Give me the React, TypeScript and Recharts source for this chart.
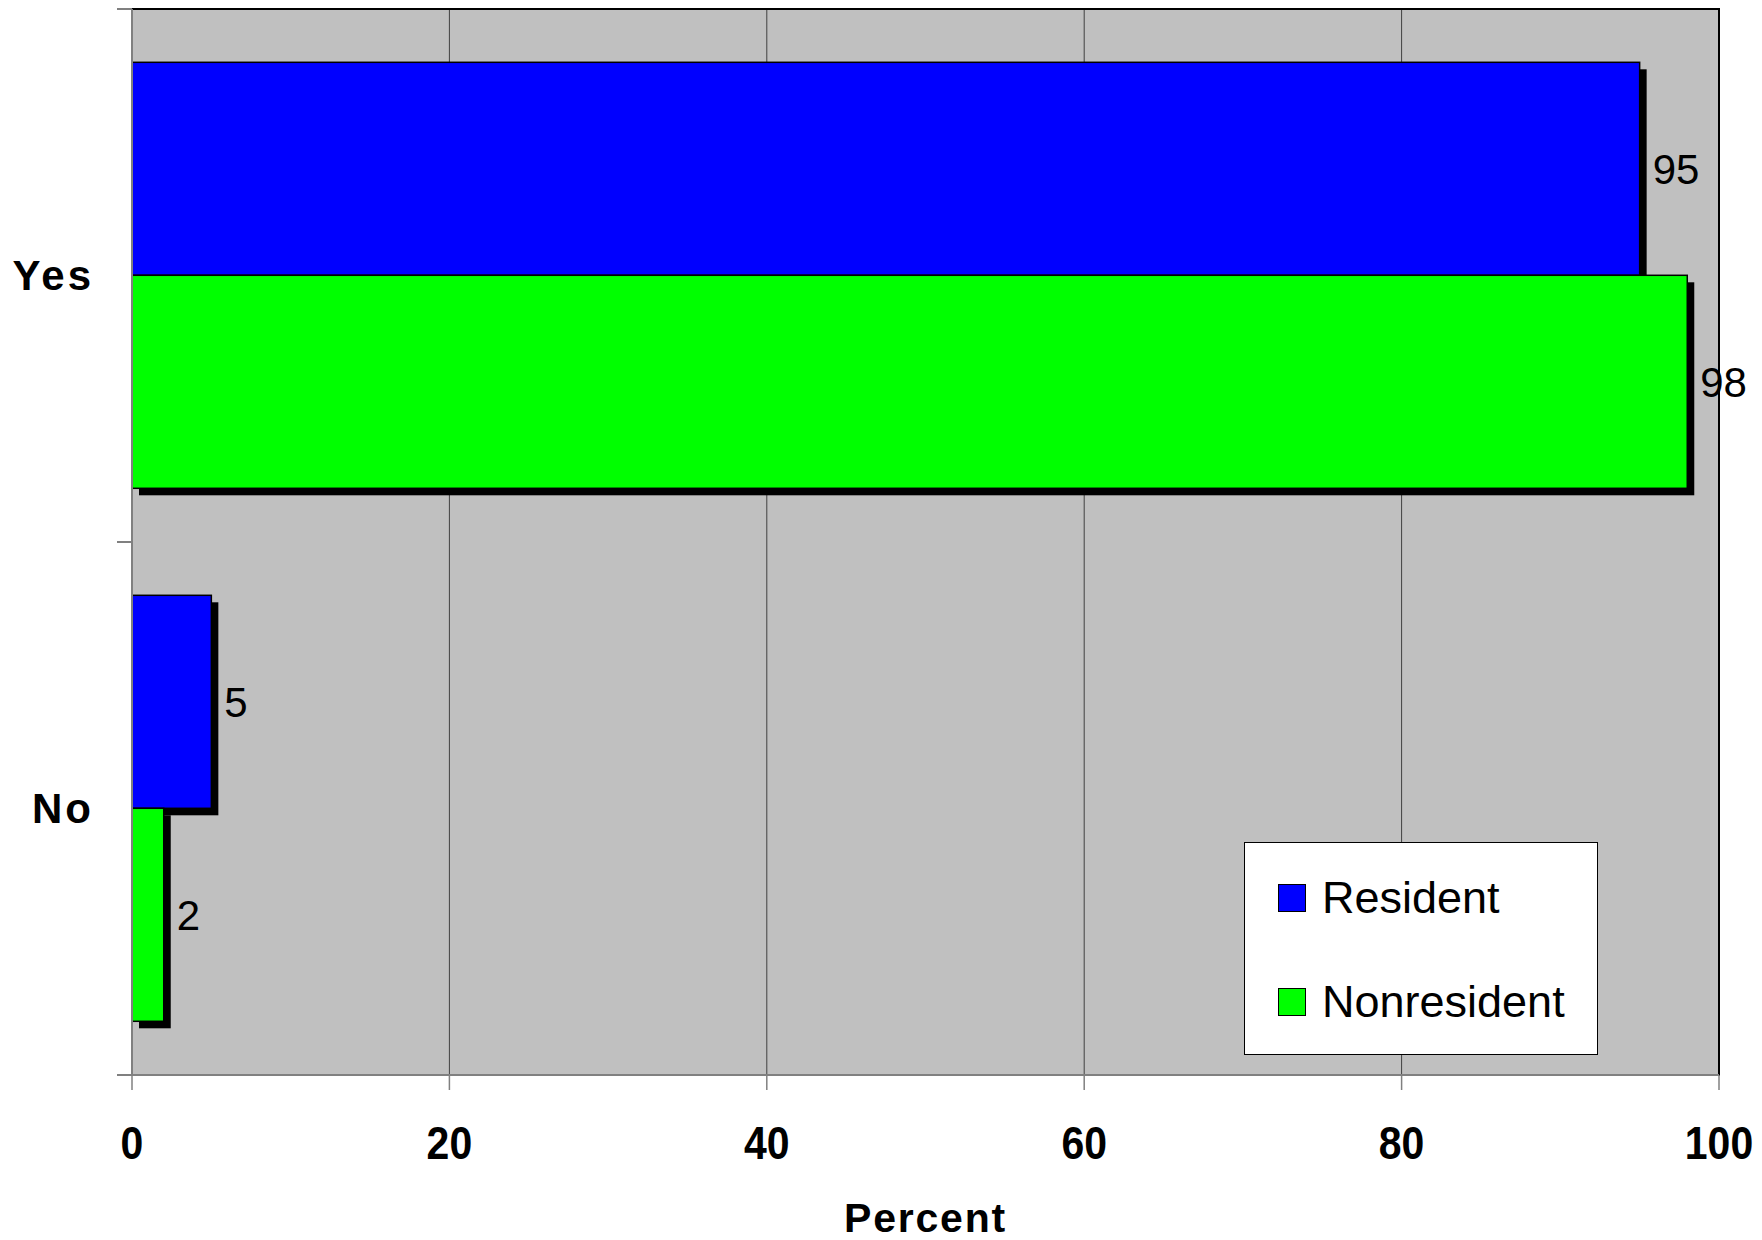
import React from 'react';
import {
  BarChart,
  Bar,
  XAxis,
  YAxis,
  CartesianGrid,
  LabelList,
  Legend,
  ReferenceArea,
} from 'recharts';

const categories = ['Yes', 'No'];
const residentValues = [95, 5];
const nonresidentValues = [98, 2];
const xTicks = [0, 20, 40, 60, 80, 100];
const seriesNames = ['Resident', 'Nonresident'];
const seriesColors = ['#0000ff', '#00ff00'];

const data = categories.map((c, i) => ({
  answer: c,
  Resident: residentValues[i],
  Nonresident: nonresidentValues[i],
}));

const FONT = '"Liberation Sans", Arial, Helvetica, sans-serif';
const W = 1762;
const H = 1240;
const MARGIN = { top: 9, right: 43, bottom: 0, left: 0 };
const YAXIS_W = 132;
const XAXIS_H = 165;
const PLOT_H = H - MARGIN.top - MARGIN.bottom - XAXIS_H;

const ShadowBar = (props: any) => {
  const { x, y, width, height, fill } = props;
  if (width == null || height == null) return null;
  return (
    <g>
      <rect x={x + 7} y={y + 7} width={width} height={height} fill="#000" />
      <rect x={x} y={y} width={width} height={height} fill={fill} stroke="#000" strokeWidth={1.5} />
    </g>
  );
};

const YTick = (props: any) => {
  const { y, payload } = props;
  const band = PLOT_H / categories.length;
  const axisX = YAXIS_W;
  return (
    <g>
      <line x1={axisX - 15} x2={axisX} y1={y - band / 2} y2={y - band / 2} stroke="#808080" strokeWidth={2} />
      <line x1={axisX - 15} x2={axisX} y1={y + band / 2} y2={y + band / 2} stroke="#808080" strokeWidth={2} />
      <text
        x={axisX - 38}
        y={y + 14}
        textAnchor="end"
        fontFamily={FONT}
        fontWeight="bold"
        fontSize={42}
        letterSpacing={3}
        fill="#000"
      >
        {payload.value}
      </text>
    </g>
  );
};

const XTick = (props: any) => {
  const { x, y, payload } = props;
  return (
    <g transform={`translate(${x},${y + 69})`}>
      <text
        transform="scale(1,1.12)"
        textAnchor="middle"
        fontFamily={FONT}
        fontWeight="bold"
        fontSize={41}
        fill="#000"
      >
        {payload.value}
      </text>
    </g>
  );
};

const XLabel = (props: any) => {
  const { viewBox } = props;
  const cx = viewBox.x + viewBox.width / 2;
  return (
    <text
      x={cx}
      y={viewBox.y + 157}
      textAnchor="middle"
      fontFamily={FONT}
      fontWeight="bold"
      fontSize={41}
      letterSpacing={1.8}
      fill="#000"
    >
      Percent
    </text>
  );
};

const LegendBox = () => (
  <div
    style={{
      position: 'relative',
      width: 354,
      height: 213,
      background: '#fff',
      border: '1.5px solid #000',
      boxSizing: 'border-box',
      fontFamily: FONT,
    }}
  >
    {seriesNames.map((name, i) => (
      <div
        key={name}
        style={{
          position: 'absolute',
          left: 33,
          top: 55 + i * 104 - 25,
          height: 50,
          display: 'flex',
          alignItems: 'center',
        }}
      >
        <div
          style={{
            width: 28,
            height: 28,
            background: seriesColors[i],
            border: '1.5px solid #000',
            boxSizing: 'border-box',
            marginRight: 16,
          }}
        />
        <span style={{ fontSize: 45, color: '#000', lineHeight: '50px' }}>{name}</span>
      </div>
    ))}
  </div>
);

export default function App() {
  return (
    <div style={{ position: 'absolute', left: 0, top: 0, width: W, height: H, background: '#fff' }}>
      <BarChart
        width={W}
        height={H}
        data={data}
        layout="vertical"
        margin={MARGIN}
        barCategoryGap="10%"
        barGap={0}
      >
        <CartesianGrid
          horizontal={false}
          vertical={true}
          stroke="#404040"
          strokeWidth={1}
          fill="#c0c0c0"
          fillOpacity={1}
        />
        <ReferenceArea x1={0} x2={100} fill="none" stroke="#000" strokeWidth={2} ifOverflow="visible" />
        <XAxis
          type="number"
          domain={[0, 100]}
          ticks={xTicks}
          interval={0}
          height={XAXIS_H}
          tickSize={15}
          tickMargin={0}
          axisLine={{ stroke: '#808080', strokeWidth: 2 }}
          tickLine={{ stroke: '#808080', strokeWidth: 1.5 }}
          tick={<XTick />}
          label={<XLabel />}
        />
        <YAxis
          type="category"
          dataKey="answer"
          width={YAXIS_W}
          tickSize={15}
          tickMargin={25}
          axisLine={{ stroke: '#808080', strokeWidth: 2 }}
          tickLine={false}
          tick={<YTick />}
        />
        <Legend
          layout="vertical"
          align="center"
          verticalAlign="middle"
          content={<LegendBox />}
          wrapperStyle={{ position: 'absolute', left: 1244, top: 842, width: 354, height: 213 }}
        />
        {seriesNames.map((name, i) => (
          <Bar
            key={name}
            dataKey={name}
            name={name}
            fill={seriesColors[i]}
            isAnimationActive={false}
            shape={<ShadowBar />}
          >
            <LabelList
              dataKey={name}
              position="right"
              offset={13}
              fill="#000"
              style={{ fontSize: 42, fontFamily: FONT, fill: '#000' }}
            />
          </Bar>
        ))}
      </BarChart>
    </div>
  );
}
